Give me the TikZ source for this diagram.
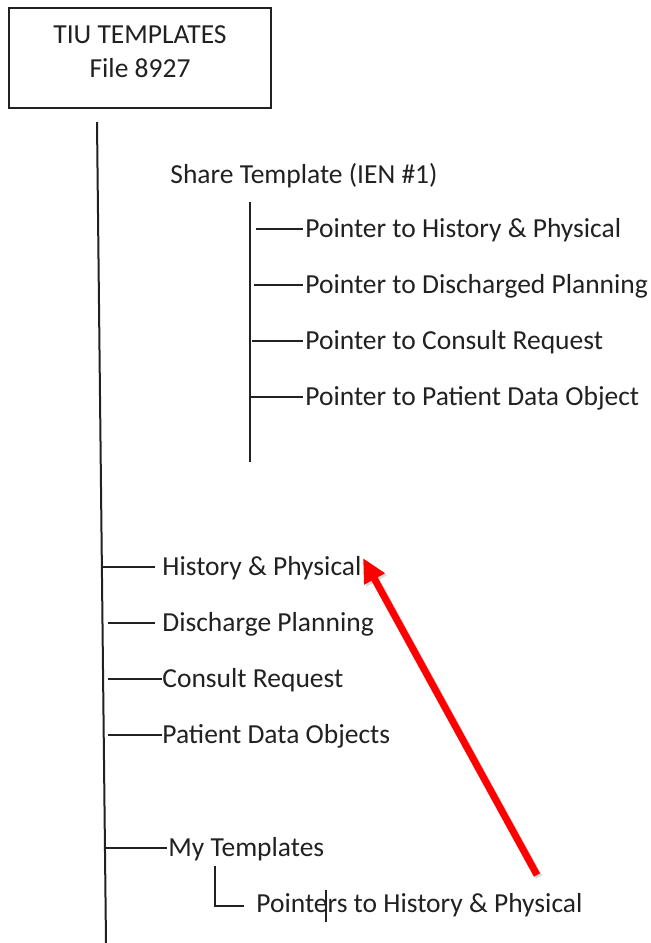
\documentclass[tikz,border=0pt]{standalone}
\usepackage{fontspec}
\setmainfont{Carlito}
\usepackage{tikz}
\usetikzlibrary{positioning,arrows.meta,calc}
\definecolor{treeink}{rgb}{0.13,0.13,0.13}
\definecolor{markred}{rgb}{1,0,0}
\tikzstyle{rootbox}=[%
      rectangle, draw=treeink, line width=1pt, fill=none,
      minimum width=131pt, minimum height=50pt, inner sep=0pt
]
\tikzstyle{leaf}=[%
      anchor=west, text=treeink, font=\fontsize{13.75}{16}\selectfont,
      inner xsep=0pt, inner ysep=0pt, text height=10.5pt, text depth=2pt
]
\tikzstyle{tree}=[%
      draw=treeink, line width=0.8pt
]
\tikzstyle{trunk}=[%
      draw=treeink, line width=1pt
]
\tikzstyle{pointer}=[%
      draw=markred, line width=3.5pt, -{Triangle[length=12pt,width=11pt]}
]

\begin{document}
\begin{tikzpicture}[x=0.5pt, y=-0.5pt]
    \useasboundingbox (0,0) rectangle (651,943);

    % file box
    \node[rootbox] (root) at (140,58) {};
    \node[leaf, anchor=base] (roottitle) at (140,43) {TIU TEMPLATES};
    \node[leaf, anchor=base] (rootfile)  at (140,77) {File 8927};

    % main trunk
    \coordinate (trunktop) at (97,122);
    \coordinate (trunkbot) at (106,943);
    \draw[trunk] (trunktop) -- (trunkbot);

    % shared template and its pointers
    \node[leaf] (share) at (170,175) {Share Template (IEN \#1)};
    \coordinate (sharetop) at (250,202);
    \coordinate (sharebot) at (250,462);
    \draw[trunk] (sharetop) -- (sharebot);
    \foreach \nm/\yy/\xs/\txt in {ph/229/256/Pointer to History \& Physical,
                                 pdp/285/254/Pointer to Discharged Planning,
                                 pcr/341/252/Pointer to Consult Request,
                                 ppd/397/250/Pointer to Patient Data Object}{
      \node[leaf] (\nm) at (305,\yy) {\txt};
      \coordinate (\nm-a) at (\xs,\yy);
      \draw[tree, shorten >=1pt] (\nm-a) -- (\nm.west);
    }

    % entries hanging off the trunk
    \foreach \nm/\yy/\xs/\xt/\gap/\txt in {hp/567/102/162/3.5/History \& Physical,
                                          dp/623/108/162/3.5/Discharge Planning,
                                          cr/679/108/162/0/Consult Request,
                                          pd/735/108/162/0/Patient Data Objects,
                                          mt/848/106/168/0.5/My Templates}{
      \node[leaf] (\nm) at (\xt,\yy) {\txt};
      \coordinate (\nm-a) at (\xs,\yy);
      \draw[tree, shorten >=\gap pt] (\nm-a) -- (\nm.west);
    }

    % my templates pointer
    \node[leaf] (mtptr) at (256,904) {Pointers to History \& Physical};
    \coordinate (mt-sub) at (215,866);
    \draw[tree] (mt-sub) |- ([xshift=-6pt,yshift=-1pt]mtptr.west);
    \draw[treeink, line width=0.6pt] (326,890) -- (326,922);

    % red arrow
    \coordinate (arrowtail) at (537,875);
    \coordinate (arrowtip)  at (363,558);
    \draw[pointer, draw=black, opacity=0.15, transform canvas={xshift=1pt,yshift=-1pt}] (arrowtail) -- (arrowtip);
    \draw[pointer] (arrowtail) -- (arrowtip);

  \end{tikzpicture}
\end{document}
